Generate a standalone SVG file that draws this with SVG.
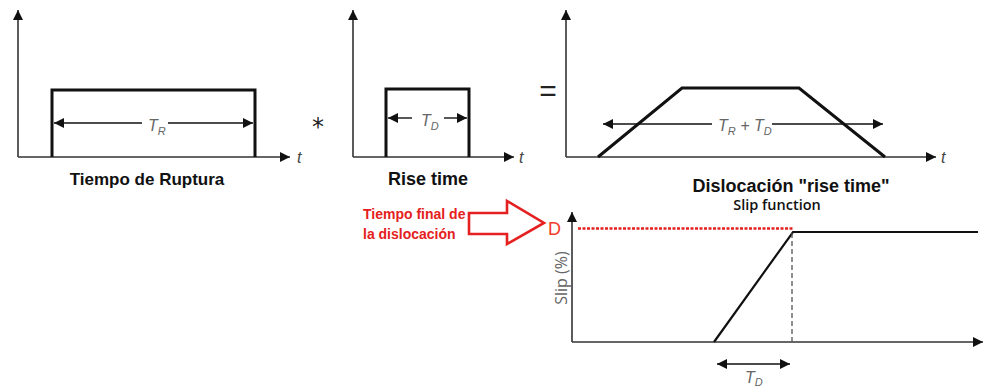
<svg xmlns="http://www.w3.org/2000/svg" width="988" height="390" viewBox="0 0 988 390">
<defs>
<marker id="ah" viewBox="0 0 10 10" refX="10" refY="5" markerWidth="10" markerHeight="10" markerUnits="userSpaceOnUse" orient="auto-start-reverse">
<path d="M0,0 L10,5 L0,10 z" fill="#111"/>
</marker>
<marker id="ah2" viewBox="0 0 10 10" refX="10" refY="5" markerWidth="12" markerHeight="10" markerUnits="userSpaceOnUse" orient="auto-start-reverse">
<path d="M0,0 L10,5 L0,10 z" fill="#111"/>
</marker>
</defs>
<style>
.ax{stroke:#333;stroke-width:1.6;fill:none}
.sig{stroke:#111;stroke-width:3;fill:none}
.dim{stroke:#111;stroke-width:1.4;fill:none}
.lbl{font-family:"Liberation Sans",Arial,sans-serif;font-style:italic;fill:#666;font-size:16px}
.sub{font-size:11px}
.t{font-family:"Liberation Sans",Arial,sans-serif;font-style:italic;fill:#444;font-size:16px}
.cap{font-family:"Liberation Sans",Arial,sans-serif;font-weight:bold;fill:#111;font-size:18px}
.red{font-family:"Liberation Sans",Arial,sans-serif;font-weight:bold;fill:#e52020;font-size:14px}
</style>
<rect width="988" height="390" fill="#fff"/>

<g id="panel-ruptura">
<path class="ax" d="M18,157 V10" marker-end="url(#ah)"/>
<path class="ax" d="M18,157 H290" marker-end="url(#ah)"/>
<text class="t" x="297" y="163">t</text>
<path class="sig" d="M52,157 V90 H255 V157"/>
<path class="dim" d="M142,123 H54" marker-end="url(#ah2)"/>
<path class="dim" d="M168,123 H253" marker-end="url(#ah2)"/>
<text class="lbl" x="148" y="131">T<tspan class="sub" dy="4">R</tspan></text>
<text class="cap" x="147" y="185" text-anchor="middle" style="font-size:17px">Tiempo de Ruptura</text>
</g>

<text x="318" y="135" font-family="DejaVu Sans,sans-serif" font-size="24" fill="#222" text-anchor="middle">*</text>

<g id="panel-rise">
<path class="ax" d="M353,157 V10" marker-end="url(#ah)"/>
<path class="ax" d="M353,157 H514" marker-end="url(#ah)"/>
<text class="t" x="519" y="163">t</text>
<path class="sig" d="M386,157 V89 H469 V157"/>
<path class="dim" d="M412,118 H388" marker-end="url(#ah2)"/>
<path class="dim" d="M444,118 H467" marker-end="url(#ah2)"/>
<text class="lbl" x="421" y="126">T<tspan class="sub" dy="4">D</tspan></text>
<text class="cap" x="428" y="185" text-anchor="middle">Rise time</text>
</g>

<text x="548" y="101" font-family="Liberation Sans,sans-serif" font-size="30" fill="#222" text-anchor="middle">=</text>

<g id="panel-dislocacion">
<path class="ax" d="M566,157 V10" marker-end="url(#ah)"/>
<path class="ax" d="M566,157 H936" marker-end="url(#ah)"/>
<text class="t" x="941" y="163" font-size="12">t</text>
<path class="sig" d="M598,157 L682,88 H799 L885,157" stroke-width="2.6"/>
<path class="dim" d="M712,124 H603" marker-end="url(#ah2)"/>
<path class="dim" d="M772,124 H883" marker-end="url(#ah2)"/>
<text class="lbl" x="718" y="131">T<tspan class="sub" dy="4">R</tspan><tspan dy="-4"> + T</tspan><tspan class="sub" dy="4">D</tspan></text>
<text class="cap" x="791" y="192" text-anchor="middle">Dislocación "rise time"</text>
<text x="777" y="210" font-family="Open Sans,Liberation Sans,sans-serif" font-size="14.5" font-weight="600" fill="#111" text-anchor="middle">Slip function</text>
</g>

<g id="callout">
<path d="M469,213 H507 V201 L544,223 L507,244 V234 H469 Z" fill="none" stroke="#e52020" stroke-width="2.6" stroke-linejoin="miter"/>
<text class="red" x="363" y="219">Tiempo final de</text>
<text class="red" x="363" y="239">la dislocación</text>
</g>

<g id="panel-slip">
<path class="ax" d="M572,342 V212" marker-end="url(#ah)"/>
<path class="ax" d="M572,342 H983" marker-end="url(#ah)"/>
<path d="M578,228.5 H793" stroke="#e52020" stroke-width="2.5" stroke-dasharray="3,1.5" fill="none"/>
<text x="548" y="235" font-family="Liberation Sans,sans-serif" font-size="18" fill="#f03c28">D</text>
<path d="M714,342 L793,232 H978" stroke="#111" stroke-width="2.2" fill="none"/>
<path d="M792,233 V342" stroke="#555" stroke-width="1.3" stroke-dasharray="5,3" fill="none"/>
<text transform="translate(567,278) rotate(-90)" font-family="Open Sans,Liberation Sans,sans-serif" font-size="16" fill="#666" text-anchor="middle">Slip (%)</text>
<path class="dim" d="M753,364 H717" marker-end="url(#ah2)"/>
<path class="dim" d="M753,364 H790" marker-end="url(#ah2)"/>
<text class="lbl" x="745" y="383">T<tspan class="sub" dy="3">D</tspan></text>
</g>
</svg>
